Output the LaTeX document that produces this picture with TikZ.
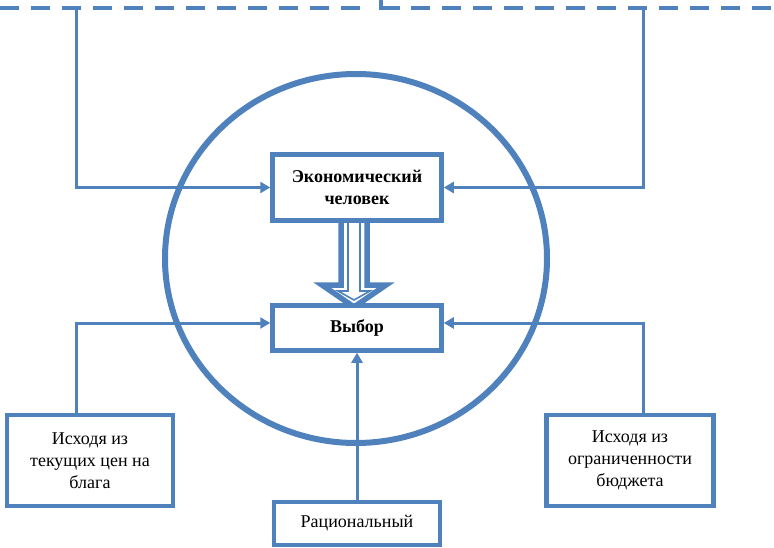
\documentclass[tikz,border=0pt]{standalone}
\usepackage{fontspec}
\setmainfont{Liberation Serif}
\usetikzlibrary{arrows.meta,backgrounds}
\definecolor{ob}{HTML}{4F81BD}
\begin{document}
\begin{tikzpicture}[x=1pt,y=-1pt,
  box/.style={draw=ob,line width=4.5pt,fill=white,align=center,inner sep=0pt,
    font=\fontsize{18}{21.7}\selectfont},
  boldbox/.style={box,font=\fontsize{18}{21.7}\selectfont\bfseries},
  conn/.style={draw=ob,line width=3pt,-{Triangle[length=10pt,width=11pt]}},
  dline/.style={draw=ob,line width=4.5pt,dash pattern=on 19pt off 12pt},
  sline/.style={draw=ob,line width=4.5pt},
  ring/.style={draw=ob,line width=6pt},
  hollowout/.style={fill=white,draw=ob,line width=5.5pt,line join=miter},
  hollowin/.style={draw=ob,line width=1.6pt,line join=miter}]
\useasboundingbox (0,0) rectangle (774,548);

% boxes
\node[boldbox,minimum width=169pt,minimum height=66pt] (A) at (357,187.5) {Экономический\\человек};
\node[boldbox,minimum width=169pt,minimum height=45pt] (B) at (357,328) {Выбор};
\node[box,minimum width=166pt,minimum height=91pt] (L) at (90,460.5) {Исходя из\\текущих цен на\\блага};
\node[box,minimum width=167pt,minimum height=91pt] (R) at (630,460.5) {Исходя из\\ограниченности\\бюджета};
\node[box,minimum width=166pt,minimum height=43pt] (C) at (357,523.5) {Рациональный};

% background: circle and hollow arrow
\begin{scope}[on background layer]
  \coordinate (O) at (356,258.5);
  \draw[ring] (O) ellipse [x radius=191pt, y radius=184.5pt];
  \filldraw[hollowout] (341,221) -- (341,285) -- (322,285) -- (354,307) -- (386,285) -- (367,285) -- (367,221);
  \draw[hollowin] (348,221) -- (348,291) -- (338,291) -- (354,300) -- (370,291) -- (360,291) -- (360,221);
\end{scope}

% top dashed line
\coordinate (tl) at (76,8);
\coordinate (tr) at (643,8);
\coordinate (d0) at (0,8);
\coordinate (d1) at (361,8);
\coordinate (s0) at (381,-3);
\coordinate (s1) at (381,8);
\coordinate (s2) at (400,8);
\coordinate (d2) at (411,8);
\coordinate (d3) at (774,8);
\draw[dline] (d0) -- (d1);
\draw[sline] (s0) -- (s1) -- (s2);
\draw[dline] (d2) -- (d3);

% connectors
\draw[conn] (tl) |- (A.west);
\draw[conn] (tr) |- (A.east);
\draw[conn] (L.north -| tl) |- ([yshift=5pt]B.west);
\draw[conn] (R.north -| tr) |- ([yshift=5pt]B.east);
\draw[conn] (C.north) -- (B.south);
\end{tikzpicture}
\end{document}
